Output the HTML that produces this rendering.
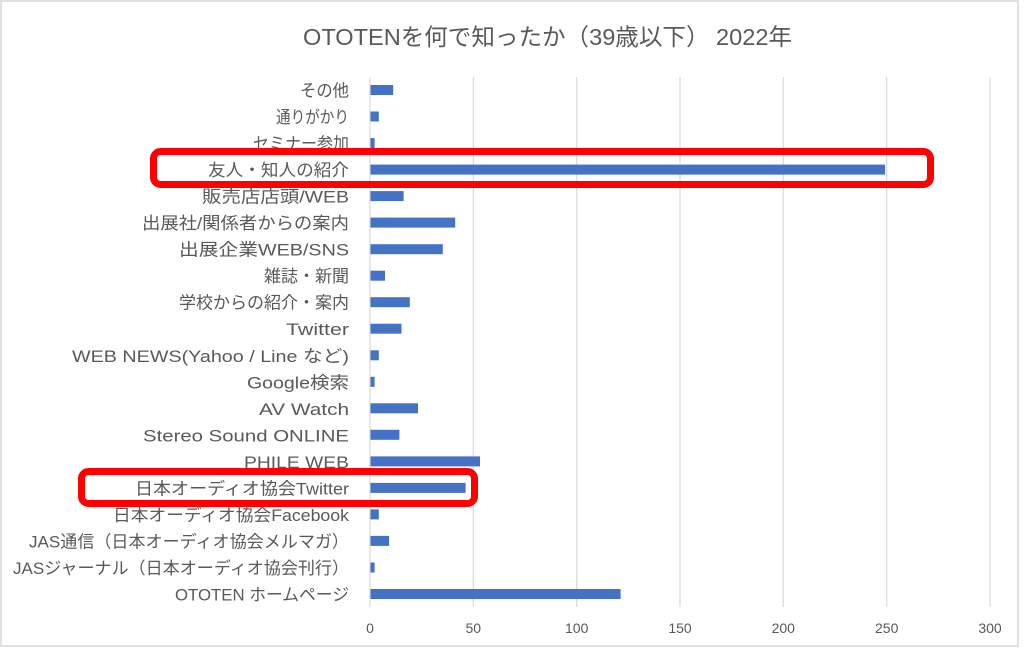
<!DOCTYPE html>
<html>
<head>
<meta charset="utf-8">
<style>
  html,body{margin:0;padding:0;background:#fff;}
  svg{display:block;}
  .lbl{font-family:"Liberation Sans","Noto Sans CJK JP",sans-serif;font-size:17px;fill:#595959;}
  .tick{font-family:"Liberation Sans","Noto Sans CJK JP",sans-serif;font-size:14px;fill:#595959;}
  .title{font-family:"Liberation Sans","Noto Sans CJK JP",sans-serif;font-size:23.5px;fill:#595959;}
</style>
</head>
<body>
<svg width="1024" height="649" viewBox="0 0 1024 649" xmlns="http://www.w3.org/2000/svg">
  <rect x="0" y="0" width="1024" height="649" fill="#fff"/>
  <!-- chart border -->
  <rect x="1" y="1" width="1017" height="645" fill="none" stroke="#e0e0e0" stroke-width="2"/>

  <!-- title -->
  <text class="title" x="303" y="45" textLength="489" lengthAdjust="spacingAndGlyphs">OTOTENを何で知ったか（39歳以下） 2022年</text>

  <!-- gridlines -->
  <g stroke="#d9d9d9" stroke-width="1.2">
    <line x1="370" y1="77" x2="370" y2="607"/>
    <line x1="473.3" y1="77" x2="473.3" y2="607"/>
    <line x1="576.7" y1="77" x2="576.7" y2="607"/>
    <line x1="680" y1="77" x2="680" y2="607"/>
    <line x1="783.3" y1="77" x2="783.3" y2="607"/>
    <line x1="886.7" y1="77" x2="886.7" y2="607"/>
    <line x1="990" y1="77" x2="990" y2="607"/>
  </g>

  <!-- tick labels -->
  <g class="tick" text-anchor="middle">
    <text x="370" y="633">0</text>
    <text x="473.3" y="633">50</text>
    <text x="576.7" y="633">100</text>
    <text x="680" y="633">150</text>
    <text x="783.3" y="633">200</text>
    <text x="886.7" y="633">250</text>
    <text x="990" y="633">300</text>
  </g>

  <!-- bars -->
  <g fill="#4472C4">
    <rect x="370.5" y="85" width="22.7" height="10"/>
    <rect x="370.5" y="111.5" width="8.3" height="10"/>
    <rect x="370.5" y="138.1" width="4.1" height="10"/>
    <rect x="370.5" y="164.6" width="514.6" height="10"/>
    <rect x="370.5" y="191.1" width="33.1" height="10"/>
    <rect x="370.5" y="217.6" width="84.7" height="10"/>
    <rect x="370.5" y="244.2" width="72.3" height="10"/>
    <rect x="370.5" y="270.7" width="14.5" height="10"/>
    <rect x="370.5" y="297.2" width="39.3" height="10"/>
    <rect x="370.5" y="323.7" width="31" height="10"/>
    <rect x="370.5" y="350.3" width="8.3" height="10"/>
    <rect x="370.5" y="376.8" width="4.1" height="10"/>
    <rect x="370.5" y="403.3" width="47.5" height="10"/>
    <rect x="370.5" y="429.8" width="28.9" height="10"/>
    <rect x="370.5" y="456.4" width="109.5" height="10"/>
    <rect x="370.5" y="482.9" width="95.1" height="10"/>
    <rect x="370.5" y="509.4" width="8.3" height="10"/>
    <rect x="370.5" y="535.9" width="18.6" height="10"/>
    <rect x="370.5" y="562.5" width="4.1" height="10"/>
    <rect x="370.5" y="589" width="250.1" height="10"/>
  </g>

  <!-- category labels -->
  <g class="lbl" text-anchor="end">
    <text x="349" y="96.5" textLength="49" lengthAdjust="spacingAndGlyphs">その他</text>
    <text x="349" y="123" textLength="73" lengthAdjust="spacingAndGlyphs">通りがかり</text>
    <text x="349" y="149.6" textLength="96" lengthAdjust="spacingAndGlyphs">セミナー参加</text>
    <text x="349" y="176.1" textLength="141" lengthAdjust="spacingAndGlyphs">友人・知人の紹介</text>
    <text x="349" y="202.6" textLength="147" lengthAdjust="spacingAndGlyphs">販売店店頭/WEB</text>
    <text x="349" y="229.1" textLength="207" lengthAdjust="spacingAndGlyphs">出展社/関係者からの案内</text>
    <text x="349" y="255.7" textLength="170" lengthAdjust="spacingAndGlyphs">出展企業WEB/SNS</text>
    <text x="349" y="282.2" textLength="85" lengthAdjust="spacingAndGlyphs">雑誌・新聞</text>
    <text x="349" y="308.7" textLength="170" lengthAdjust="spacingAndGlyphs">学校からの紹介・案内</text>
    <text x="349" y="335.2" textLength="63" lengthAdjust="spacingAndGlyphs">Twitter</text>
    <text x="349" y="361.8" textLength="277" lengthAdjust="spacingAndGlyphs">WEB NEWS(Yahoo / Line など)</text>
    <text x="349" y="388.3" textLength="102" lengthAdjust="spacingAndGlyphs">Google検索</text>
    <text x="349" y="414.8" textLength="90" lengthAdjust="spacingAndGlyphs">AV Watch</text>
    <text x="349" y="441.3" textLength="206" lengthAdjust="spacingAndGlyphs">Stereo Sound ONLINE</text>
    <text x="349" y="467.9" textLength="105" lengthAdjust="spacingAndGlyphs">PHILE WEB</text>
    <text x="349" y="494.4" textLength="214" lengthAdjust="spacingAndGlyphs">日本オーディオ協会Twitter</text>
    <text x="349" y="520.9" textLength="236" lengthAdjust="spacingAndGlyphs">日本オーディオ協会Facebook</text>
    <text x="349" y="547.4" textLength="320" lengthAdjust="spacingAndGlyphs">JAS通信（日本オーディオ協会メルマガ）</text>
    <text x="349" y="574" textLength="336" lengthAdjust="spacingAndGlyphs">JASジャーナル（日本オーディオ協会刊行）</text>
    <text x="349" y="600.5" textLength="174" lengthAdjust="spacingAndGlyphs">OTOTEN ホームページ</text>
  </g>

  <!-- red highlight boxes -->
  <g fill="none" stroke="#ff0000" stroke-width="7">
    <rect x="153.5" y="151.5" width="777" height="33" rx="7" ry="7"/>
    <rect x="81.5" y="471.5" width="393" height="32" rx="7" ry="7"/>
  </g>
</svg>
</body>
</html>
